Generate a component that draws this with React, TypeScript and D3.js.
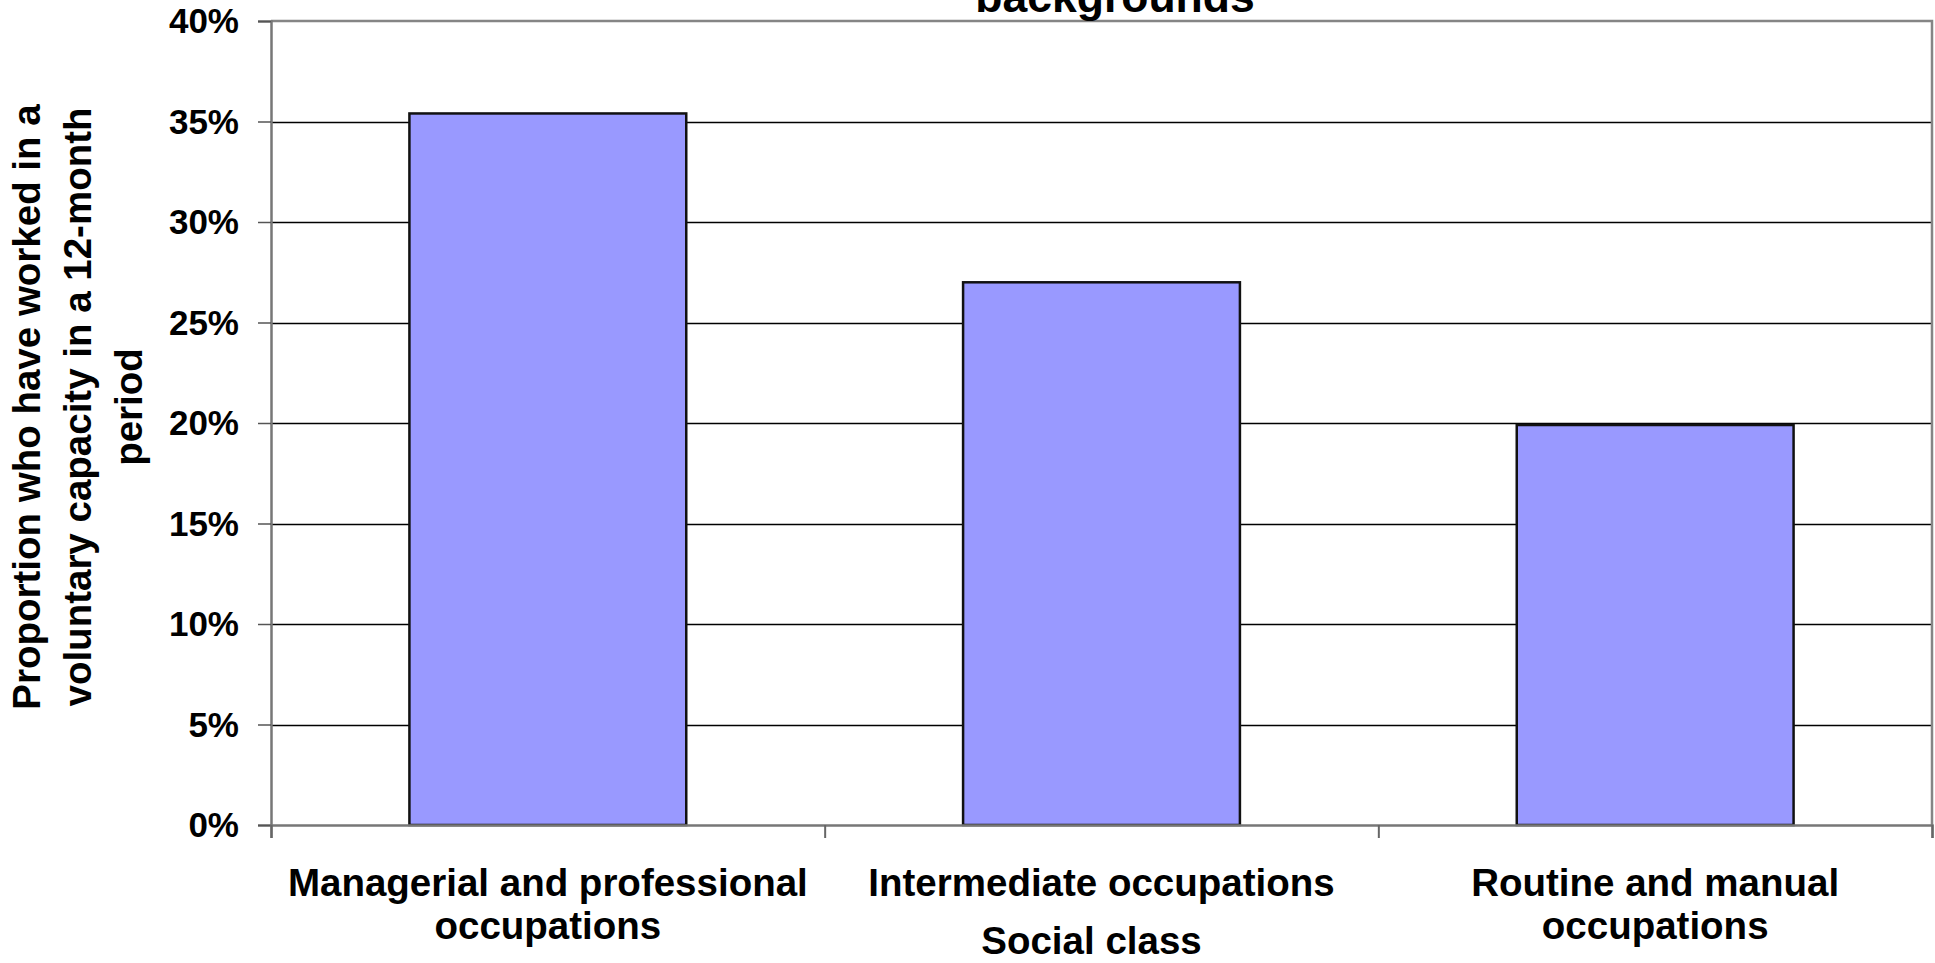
import * as d3 from "d3";
import { useEffect, useRef } from "react";

// Data
const categories: string[][] = [
    ["Managerial and professional", "occupations"],
    ["Intermediate occupations"],
    ["Routine and manual", "occupations"],
];
const values = [0.354, 0.27, 0.199];
const yTickValues = [0, 0.05, 0.1, 0.15, 0.2, 0.25, 0.3, 0.35, 0.4];
const titleLines = ["backgrounds"];
const yTitleLines = [
    "Proportion who have worked in a",
    "voluntary capacity in a 12-month",
    "period",
];
const xTitle = "Social class";

const width = 1935;
const height = 963;
const font = "'Liberation Sans', Arial, sans-serif";

function App() {
    const ref = useRef<SVGSVGElement>(null);

    useEffect(() => {
        const margin = { top: 21, right: 3, bottom: 138, left: 271 };
        const svg = d3.select(ref.current);
        svg.selectAll("*").remove();

        const x = d3.scaleBand<number>()
            .domain(categories.map((_, i) => i))
            .range([margin.left, width - margin.right])
            .paddingInner(0)
            .paddingOuter(0);

        const y = d3.scaleLinear()
            .domain([0, 0.4])
            .range([height - margin.bottom, margin.top]);

        svg.append("rect")
            .attr("width", width)
            .attr("height", height)
            .attr("fill", "#ffffff");

        // gridlines
        svg.append("g")
            .selectAll("line")
            .data(yTickValues.slice(1, -1))
            .join("line")
            .attr("x1", margin.left)
            .attr("x2", width - margin.right)
            .attr("y1", (d) => Math.round(y(d)) + 0.5)
            .attr("y2", (d) => Math.round(y(d)) + 0.5)
            .attr("stroke", "#000")
            .attr("stroke-width", 1.5);

        // top + right border of plot area
        svg.append("path")
            .attr("d", `M${margin.left},${y(0.4)}H${width - margin.right}V${y(0)}`)
            .attr("fill", "none")
            .attr("stroke", "#858585")
            .attr("stroke-width", 2.5);

        // bars
        const barW = x.bandwidth() / 2;
        svg.append("g")
            .selectAll("rect")
            .data(values)
            .join("rect")
            .attr("x", (_, i) => x(i)! + x.bandwidth() / 2 - barW / 2)
            .attr("y", (d) => y(d))
            .attr("width", barW)
            .attr("height", (d) => y(0) - y(d))
            .attr("fill", "#9999ff")
            .attr("stroke", "#111")
            .attr("stroke-width", 2.5);

        // y axis
        const yAxis = svg.append("g")
            .attr("transform", `translate(${margin.left},0)`)
            .call(d3.axisLeft(y).tickValues(yTickValues).tickSize(13).tickFormat(() => ""));
        yAxis.select(".domain").attr("stroke", "#777").attr("stroke-width", 2.5);
        yAxis.selectAll(".tick line").attr("stroke", "#555").attr("stroke-width", 1.5);

        svg.append("g")
            .selectAll("text")
            .data(yTickValues)
            .join("text")
            .attr("x", margin.left - 32)
            .attr("y", (d) => y(d) + 12)
            .attr("text-anchor", "end")
            .attr("font-family", font)
            .attr("font-weight", "bold")
            .attr("font-size", 35)
            .attr("fill", "#000")
            .text((d) => d3.format(".0%")(d));

        // x axis
        const xAxis = svg.append("g")
            .attr("transform", `translate(0,${y(0)})`)
            .call(
                d3.axisBottom(d3.scaleLinear().domain([0, 3]).range([margin.left, width - margin.right]))
                    .tickValues([0, 1, 2, 3])
                    .tickSize(13)
                    .tickFormat(() => "")
            );
        xAxis.select(".domain").attr("stroke", "#777").attr("stroke-width", 2.5);
        xAxis.selectAll(".tick line").attr("stroke", "#666").attr("stroke-width", 2);

        // category labels
        const catG = svg.append("g")
            .selectAll("g")
            .data(categories)
            .join("g")
            .attr("transform", (_, i) => `translate(${x(i)! + x.bandwidth() / 2},896)`);
        catG.selectAll("text")
            .data((d) => d)
            .join("text")
            .attr("y", (_, j) => j * 43)
            .attr("text-anchor", "middle")
            .attr("font-family", font)
            .attr("font-weight", "bold")
            .attr("font-size", 38.5)
            .attr("fill", "#000")
            .text((d) => d);

        // x axis title
        svg.append("text")
            .attr("x", (margin.left + width - margin.right) / 2 - 10)
            .attr("y", 954)
            .attr("text-anchor", "middle")
            .attr("font-family", font)
            .attr("font-weight", "bold")
            .attr("font-size", 38.5)
            .text(xTitle);

        // chart title (only its last line is inside the picture)
        svg.append("g")
            .selectAll("text")
            .data(titleLines)
            .join("text")
            .attr("x", 1115)
            .attr("y", 12)
            .attr("text-anchor", "middle")
            .attr("font-family", font)
            .attr("font-weight", "bold")
            .attr("font-size", 44.5)
            .text((d) => d);

        // y axis title
        const yt = svg.append("g").attr("transform", "translate(0,407) rotate(-90)");
        yt.selectAll("text")
            .data(yTitleLines)
            .join("text")
            .attr("x", 0)
            .attr("y", (_, i) => 40 + i * 51)
            .attr("text-anchor", "middle")
            .attr("font-family", font)
            .attr("font-weight", "bold")
            .attr("font-size", 38.5)
            .text((d) => d);
    }, []);

    return (
        <svg
            ref={ref}
            width={width}
            height={height}
            style={{ position: "absolute", left: 0, top: 0, display: "block" }}
        />
    );
}

export default App;
